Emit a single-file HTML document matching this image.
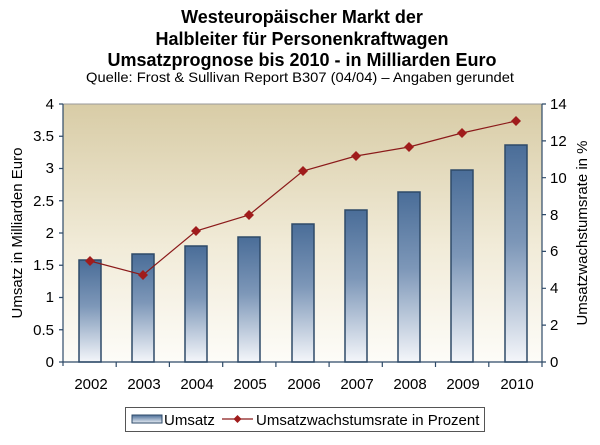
<!DOCTYPE html>
<html><head><meta charset="utf-8"><style>
html,body{margin:0;padding:0;background:#fff;}
svg{display:block;font-family:"Liberation Sans",Arial,sans-serif;}
</style></head><body>
<svg width="600" height="445" viewBox="0 0 600 445" xmlns="http://www.w3.org/2000/svg">
<defs>
<linearGradient id="bg" x1="0" y1="0" x2="0" y2="1">
<stop offset="0" stop-color="#d8cca6"/><stop offset="0.55" stop-color="#f1ebd8"/><stop offset="1" stop-color="#fdfcf8"/>
</linearGradient>
<linearGradient id="bar" x1="0" y1="0" x2="0" y2="1">
<stop offset="0" stop-color="#4a6d98"/><stop offset="0.45" stop-color="#7d97b8"/><stop offset="1" stop-color="#f4f6fa"/>
</linearGradient>
<linearGradient id="lg" x1="0" y1="0" x2="0" y2="1">
<stop offset="0" stop-color="#4a6d98"/><stop offset="1" stop-color="#e8edf4"/>
</linearGradient>
</defs>
<g text-anchor="middle" font-weight="bold" font-size="18" fill="#000">
<text x="302" y="23">Westeuropäischer Markt der</text>
<text x="302" y="45">Halbleiter für Personenkraftwagen</text>
<text x="302" y="66">Umsatzprognose bis 2010 - in Milliarden Euro</text>
</g>
<text x="300" y="82" text-anchor="middle" font-size="14" textLength="428" lengthAdjust="spacingAndGlyphs">Quelle: Frost &amp; Sullivan Report B307 (04/04) – Angaben gerundet</text>
<rect x="63" y="104" width="479" height="258" fill="url(#bg)"/>
<line x1="63" y1="104" x2="542" y2="104" stroke="#999" stroke-width="1"/>
<g fill="url(#bar)" stroke="#2e4a68" stroke-width="1.5">
<rect x="79" y="260" width="22" height="102"/>
<rect x="132" y="254" width="22" height="108"/>
<rect x="185" y="246" width="22" height="116"/>
<rect x="238" y="237" width="22" height="125"/>
<rect x="292" y="224" width="22" height="138"/>
<rect x="345" y="210" width="22" height="152"/>
<rect x="398" y="192" width="22" height="170"/>
<rect x="451" y="170" width="22" height="192"/>
<rect x="505" y="145" width="22" height="217"/>
</g>
<g stroke="#2e4a68" stroke-width="1.2" fill="none">
<line x1="63" y1="104" x2="63" y2="366"/>
<line x1="542" y1="104" x2="542" y2="362"/>
<line x1="59" y1="362" x2="546" y2="362"/>
<path d="M59 104h4M59 136.25h4M59 168.5h4M59 200.75h4M59 233h4M59 265.25h4M59 297.5h4M59 329.75h4"/>
<path d="M542 104h4M542 140.9h4M542 177.7h4M542 214.6h4M542 251.4h4M542 288.3h4M542 325.1h4"/>
<path d="M116.2 362v5M169.4 362v5M222.7 362v5M275.9 362v5M329.1 362v5M382.3 362v5M435.5 362v5M488.8 362v5M542 362v5"/>
</g>
<polyline fill="none" stroke="#8b1a1a" stroke-width="1.2" points="90,261 143,275 196,231 249,215 303,171 356,156 409,147 462,133 516,121"/>
<g fill="#a01c1c">
<path d="M90 256l5 5-5 5-5-5z"/><path d="M143 270l5 5-5 5-5-5z"/><path d="M196 226l5 5-5 5-5-5z"/>
<path d="M249 210l5 5-5 5-5-5z"/><path d="M303 166l5 5-5 5-5-5z"/><path d="M356 151l5 5-5 5-5-5z"/>
<path d="M409 142l5 5-5 5-5-5z"/><path d="M462 128l5 5-5 5-5-5z"/><path d="M516 116l5 5-5 5-5-5z"/>
</g>
<g font-size="15" text-anchor="end" fill="#000">
<text x="54" y="109">4</text><text x="54" y="141">3.5</text><text x="54" y="173">3</text><text x="54" y="206">2.5</text>
<text x="54" y="238">2</text><text x="54" y="270">1.5</text><text x="54" y="302">1</text><text x="54" y="335">0.5</text><text x="54" y="367">0</text>
</g>
<g font-size="15" text-anchor="start" fill="#000">
<text x="550" y="109">14</text><text x="550" y="146">12</text><text x="550" y="183">10</text><text x="550" y="220">8</text>
<text x="550" y="256">6</text><text x="550" y="293">4</text><text x="550" y="330">2</text><text x="550" y="367">0</text>
</g>
<g font-size="15" text-anchor="middle" fill="#000">
<text x="91" y="389">2002</text><text x="144" y="389">2003</text><text x="197" y="389">2004</text><text x="250" y="389">2005</text>
<text x="304" y="389">2006</text><text x="357" y="389">2007</text><text x="410" y="389">2008</text><text x="463" y="389">2009</text><text x="517" y="389">2010</text>
</g>
<text transform="translate(22,233) rotate(-90)" text-anchor="middle" font-size="15">Umsatz in Milliarden Euro</text>
<text transform="translate(587,233) rotate(-90)" text-anchor="middle" font-size="15">Umsatzwachstumsrate in %</text>
<rect x="125.5" y="407.5" width="359" height="24" fill="#fff" stroke="#555" stroke-width="1"/>
<rect x="132" y="415" width="30" height="8" fill="url(#lg)" stroke="#2e4a68" stroke-width="1"/>
<text x="164" y="425" font-size="15">Umsatz</text>
<line x1="222" y1="419" x2="253" y2="419" stroke="#8b1a1a" stroke-width="1.2"/>
<path d="M237.5 415l4 4-4 4-4-4z" fill="#a01c1c"/>
<text x="256" y="425" font-size="15">Umsatzwachstumsrate in Prozent</text>
</svg>
</body></html>
